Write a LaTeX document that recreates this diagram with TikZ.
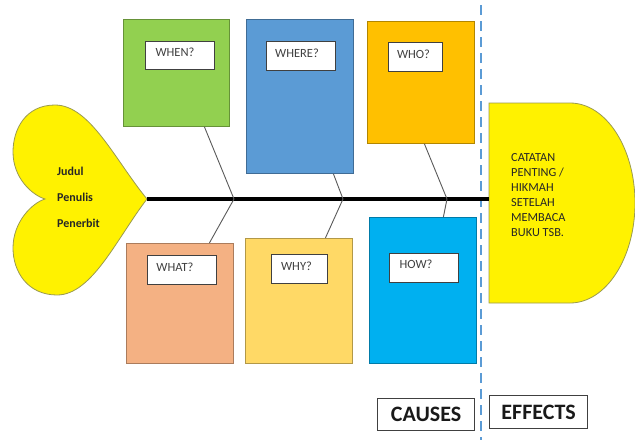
\documentclass[tikz,border=0pt]{standalone}
\usepackage{fontspec}
\setmainfont{Carlito}
\definecolor{cgreen}{HTML}{92D050}
\definecolor{cblue}{HTML}{5B9BD5}
\definecolor{corange}{HTML}{FFC000}
\definecolor{csalmon}{HTML}{F4B183}
\definecolor{clyellow}{HTML}{FFD966}
\definecolor{ccyan}{HTML}{00B0F0}
\definecolor{txtgray}{HTML}{404040}
\definecolor{olive}{HTML}{9A9A50}
\tikzset{
  causebox/.style={draw=#1!70!black, fill=#1, line width=0.8pt, inner sep=0pt, anchor=north west},
  labbox/.style={draw=txtgray, fill=white, line width=1pt, inner sep=0pt, anchor=north west},
  labtext/.style={font=\fontsize{12.5}{14}\selectfont, text=txtgray, inner sep=0pt},
  bone/.style={draw=black!65, line width=0.9pt},
  bigbox/.style={draw=txtgray, line width=1.1pt, inner sep=0pt, anchor=north west, font=\fontsize{22}{24}\bfseries\selectfont, text=black!90},
}
\begin{document}
\begin{tikzpicture}[x=1pt,y=-1pt]
\useasboundingbox (0,0) rectangle (635,440);
% dashed divider
\coordinate (dtop) at (481,5);
\coordinate (dbot) at (481,440);
\draw[cblue, line width=2pt, dash pattern=on 10pt off 6pt] (dtop) -- (dbot);
% heart (head)
\draw[olive, line width=0.8pt, fill=yellow]
  (147,199) .. controls (115,160) and (90,105) .. (55,105)
  .. controls (25,105) and (13,130) .. (13,152)
  .. controls (13,178) and (32,195) .. (45,199)
  .. controls (32,203) and (13,222) .. (13,248)
  .. controls (13,272) and (28,295) .. (57,295)
  .. controls (92,295) and (117,238) .. (147,199) -- cycle;
\coordinate (tip) at (147,199);
\node[anchor=base west, inner sep=0pt, font=\fontsize{12}{14}\bfseries\selectfont, text=black!85] (judul) at (57,175) {Judul};
\node[anchor=base west, inner sep=0pt, font=\fontsize{12}{14}\bfseries\selectfont, text=black!85] (penulis) at (57,201) {Penulis};
\node[anchor=base west, inner sep=0pt, font=\fontsize{12}{14}\bfseries\selectfont, text=black!85] (penerbit) at (57,227) {Penerbit};
% effect shape
\draw[olive, line width=0.8pt, fill=yellow]
  (489,103) -- (570,103) .. controls (606,103) and (635,148) .. (635,203)
  .. controls (635,258) and (606,303) .. (570,303) -- (489,303) -- cycle;
\coordinate (effl) at (489,199);
\node[anchor=north west, inner sep=0pt, align=left, font=\fontsize{12.3}{15}\selectfont, text=black!85] (efftext) at (511,153)
  {CATATAN\\PENTING /\\HIKMAH\\SETELAH\\MEMBACA\\BUKU TSB.};
% cause boxes
\node[causebox=cgreen, minimum width=106pt, minimum height=107pt] (when) at (123,19) {};
\node[causebox=cblue, minimum width=107pt, minimum height=154pt] (where) at (246,19) {};
\node[causebox=corange, minimum width=107pt, minimum height=122pt] (who) at (367,21) {};
\node[causebox=csalmon, minimum width=107pt, minimum height=120pt] (what) at (126,243) {};
\node[causebox=clyellow, minimum width=107pt, minimum height=125pt] (why) at (245,238) {};
\node[causebox=ccyan, minimum width=107pt, minimum height=146pt] (how) at (369,217) {};
% label boxes
\node[labbox, minimum width=69pt, minimum height=28pt] (whenl) at (145,41) {};
\node[labbox, minimum width=69pt, minimum height=29pt] (wherel) at (266,41) {};
\node[labbox, minimum width=54pt, minimum height=29pt] (whol) at (388,42) {};
\node[labbox, minimum width=69pt, minimum height=29pt] (whatl) at (147,255) {};
\node[labbox, minimum width=56pt, minimum height=29pt] (whyl) at (271,254) {};
\node[labbox, minimum width=69pt, minimum height=29pt] (howl) at (389,253) {};
\node[labtext] at ([shift={(-5,-3)}]whenl.center) {WHEN?};
\node[labtext] at ([shift={(-4,-3)}]wherel.center) {WHERE?};
\node[labtext] at ([shift={(-2,-3)}]whol.center) {WHO?};
\node[labtext] at ([shift={(-7,-3)}]whatl.center) {WHAT?};
\node[labtext] at ([shift={(-3,-3)}]whyl.center) {WHY?};
\node[labtext] at ([shift={(-8,-4)}]howl.center) {HOW?};
% spine
\coordinate (j1) at (234,199);
\coordinate (j2) at (343,199);
\coordinate (j3) at (447,199);
\draw[black, line width=3.5pt] (tip) -- (effl);
% bones
\draw[bone] ([xshift=28pt]when.south) -- (j1);
\draw[bone] ([xshift=33.5pt]where.south) -- (j2);
\draw[bone] ([xshift=3.5pt]who.south) -- (j3);
\draw[bone] ([xshift=29.5pt]what.north) -- (j1);
\draw[bone] ([xshift=26.5pt]why.north) -- (j2);
\draw[bone] ([xshift=20.5pt]how.north) -- (j3);
% causes / effects
\node[bigbox, minimum width=97pt, minimum height=32pt] (causes) at (377,398) {CAUSES};
\node[bigbox, minimum width=98pt, minimum height=33pt] (effects) at (489,395) {EFFECTS};
\end{tikzpicture}
\end{document}
